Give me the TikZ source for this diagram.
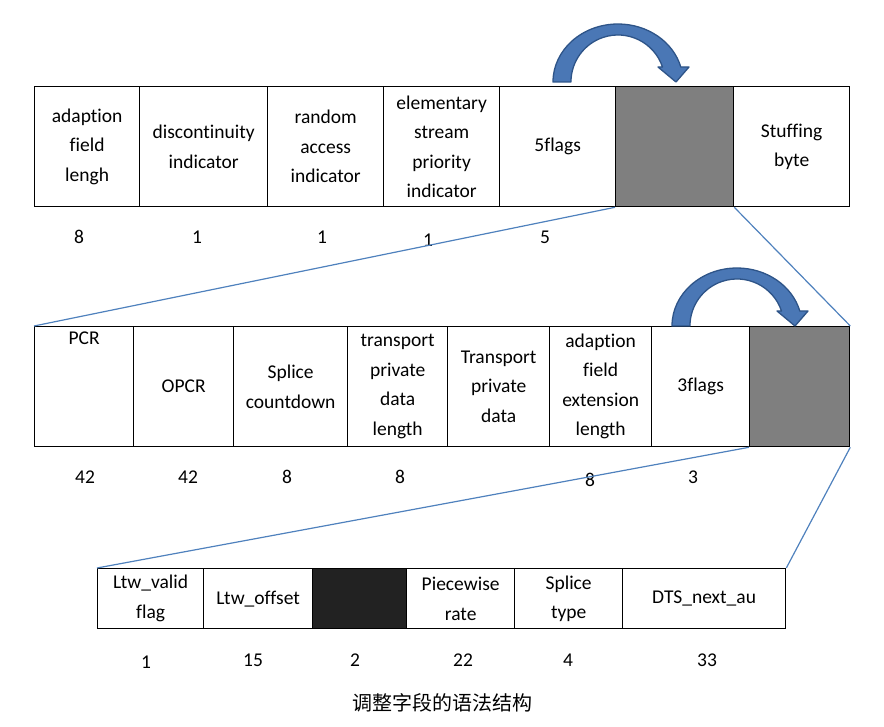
\documentclass[tikz,border=0pt]{standalone}
\usepackage{fontspec}
\setmainfont[RawFeature={-liga;-clig;-calt;-dlig}]{Carlito}
\newfontfamily\cjk{Noto Sans CJK SC}
\usepackage{tikz}
\usetikzlibrary{calc}
\definecolor{linkblue}{HTML}{4F81BD}
\definecolor{arrowfill}{HTML}{4A77B5}
\definecolor{arrowline}{HTML}{2E5488}
\definecolor{shade}{HTML}{7F7F7F}
\definecolor{darkfill}{HTML}{222222}
\tikzset{
  cell/.style={draw=black, line width=1.3pt, inner sep=0pt, anchor=north west, align=center, font=\fontsize{19.5}{29.5}\selectfont},
  graycell/.style={cell, fill=shade},
  blackcell/.style={cell, fill=darkfill},
  num/.style={font=\fontsize{19.5}{24}\selectfont},
  linkline/.style={draw=linkblue, line width=1.2pt},
  flow/.style={fill=arrowfill, draw=arrowline, line width=1.3pt, line join=round},
  captext/.style={font=\fontsize{20}{24}\cjk},
}
\begin{document}
\begin{tikzpicture}[x=1pt,y=-1pt]
  \useasboundingbox (0,0) rectangle (884,727);
  % adaptation field
  \foreach \n/\xa/\xb/\sty/\txt in {t1/34/139/cell/{adaption\\field\\lengh},
      t2/139/267/cell/{discontinuity\\indicator}, t3/267/383/cell/{random\\access\\indicator},
      t4/383/499/cell/{elementary\\stream\\priority\\indicator}, t5/499/615/cell/{5flags},
      t6/615/733/graycell/{}, t7/733/849/cell/{Stuffing\\byte}}{
    \pgfmathsetmacro\w{\xb-\xa}
    \node[\sty, minimum width=\w pt, minimum height=120pt] (\n) at (\xa,86) {\txt};
  }
  % optional fields
  \foreach \n/\xa/\xb/\sty/\txt in {m1/34/133/cell/{PCR\\\strut\\\strut\\\strut},
      m2/133/233/cell/{OPCR}, m3/233/347/cell/{Splice\\countdown},
      m4/347/447/cell/{transport\\private\\data\\length}, m5/447/549/cell/{Transport\\private\\data},
      m6/549/651/cell/{adaption\\field\\extension\\length}, m7/651/749/cell/{3flags},
      m8/749/849/graycell/{}}{
    \pgfmathsetmacro\w{\xb-\xa}
    \node[\sty, minimum width=\w pt, minimum height=120pt] (\n) at (\xa,326) {\txt};
  }
  % extension fields
  \foreach \n/\xa/\xb/\sty/\txt in {b1/97/203/cell/{Ltw\_valid\\flag}, b2/203/312/cell/{Ltw\_offset},
      b3/312/406/blackcell/{}, b4/406/514/cell/{Piecewise\\rate}, b5/514/622/cell/{Splice\\type},
      b6/622/785/cell/{DTS\_next\_au}}{
    \pgfmathsetmacro\w{\xb-\xa}
    \node[\sty, minimum width=\w pt, minimum height=60pt] (\n) at (\xa,568) {\txt};
  }
  % bit counts
  \foreach \k/\x/\y/\v in {1/79/237/8, 2/197/237/1, 3/322/237/1, 4/428/240/1, 5/545/237/5,
      6/85/477/42, 7/188/477/42, 8/287/477/8, 9/400/477/8, 10/590/480/8, 11/693/477/3,
      12/146/662/1, 13/253/660/15, 14/355/660/2, 15/463/660/22, 16/568/660/4, 17/707/660/33}{
    \node[num] (n\k) at (\x,\y) {\v};
  }
  \draw[linkline] (t6.south west) -- (m1.north west);
  \draw[linkline] (t6.south east) -- (m8.north east);
  \draw[linkline] (m8.south west) -- (b1.north west);
  \draw[linkline] (m8.south east) -- (b6.north east);
  % curved arrows
  \foreach \ax/\ay in {553/82, 672/326}{
    \begin{scope}[shift={(\ax,\ay)}]
      \filldraw[flow] (0,0) arc[start angle=180, end angle=345, x radius=65, y radius=58]
        -- (136,-15) -- (123,0) -- (105,-15) -- (109.5,-15)
        arc[start angle=341.4, end angle=180, radius=47] -- cycle;
    \end{scope}
  }
  \node[captext] (title) at (442,703) {调整字段的语法结构};
\end{tikzpicture}
\end{document}
